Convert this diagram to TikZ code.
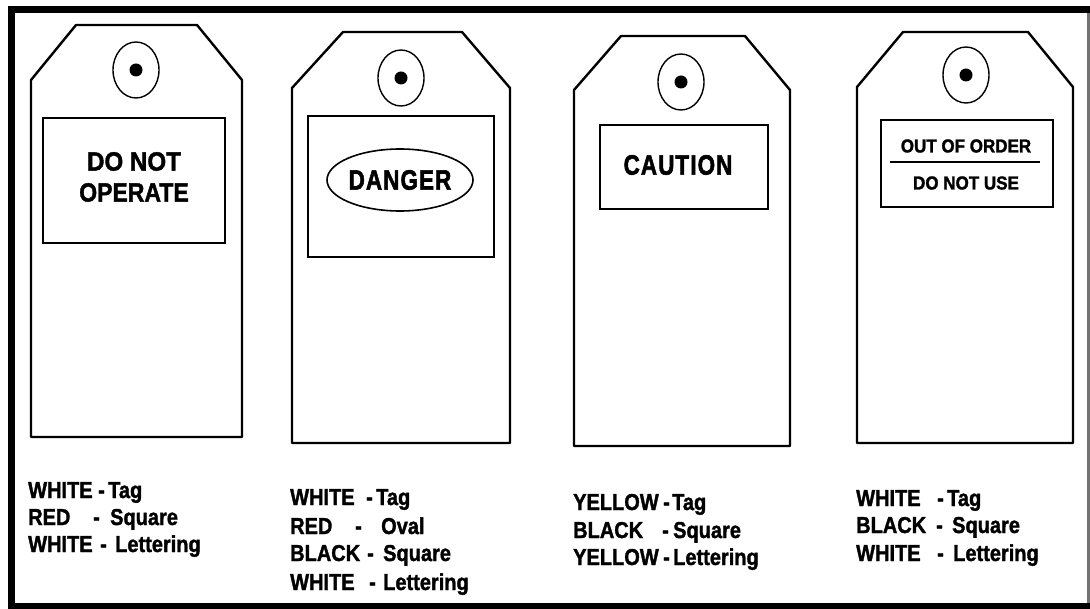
\documentclass[tikz,border=0pt]{standalone}
\usepackage{fontspec}
\setmainfont{Liberation Sans}[BoldFeatures={FakeBold=1.6}]
\newfontfamily\condfont{Liberation Sans}[LetterSpace=5,BoldFeatures={FakeBold=2.2}]
\usepackage{graphicx}
\newcommand\legline[7]{\node[lbl] (#1) at (#2,#3) {\scalebox{1}[1.15]{\makebox[#4pt][l]{#6}\makebox[#5pt][l]{-}#7}};}
\newcommand\tagshape[8]{\draw[tagedge] (#1,#2) -- (#3,#2) -- (#5,#4) -- (#5,#6) -- (#7,#6) -- (#7,#4) -- cycle;
  \draw[eyering] (#8) ellipse [x radius=23, y radius=28];
  \fill (#8) circle [radius=6.5];}
\begin{document}
\begin{tikzpicture}[x=1pt,y=-1pt,
  tagedge/.style={line width=2.4pt, line join=round},
  sqedge/.style={line width=1.6pt},
  eyering/.style={line width=1.4pt},
  lbl/.style={anchor=base west, inner sep=0pt, font=\fontsize{20}{24}\selectfont\bfseries},
  boxtxt/.style={inner sep=0pt, align=center, font=\fontsize{23}{33}\selectfont\bfseries},
  smalltxt/.style={inner sep=0pt, font=\fontsize{17}{20}\selectfont\bfseries},
  stenciltxt/.style={inner sep=0pt, font=\fontsize{28}{30}\condfont\bfseries}]
\useasboundingbox (0,0) rectangle (1090,609);
% frame
\fill[white] (0,0) rectangle (1090,609);
\fill[black] (8,6) rectangle (1090,13);
\fill[black] (8,6) rectangle (15,609);
\fill[black] (8,603) rectangle (1090,609);
\fill[black!55] (1087,13) rectangle (1089.5,603);
% tag 1
\coordinate (e1) at (136,70);
\tagshape{76}{25}{197}{80}{242}{437}{31}{e1}
\draw[sqedge] (43,118) rectangle (225,243);
\node[boxtxt] (t1) at (134,177) {\scalebox{1.05}[1.15]{DO NOT}\\[-2pt]\scalebox{1}[1.15]{OPERATE}};
% tag 2
\coordinate (e2) at (401,78);
\tagshape{343}{32}{462}{88}{510}{443}{292}{e2}
\draw[sqedge] (308,116) rectangle (494,257);
\draw[sqedge] (400,180) ellipse [x radius=73, y radius=31];
\node[stenciltxt] (t2) at (400,180) {\scalebox{0.8}[1]{DANGER}};
% tag 3
\coordinate (e3) at (681,82);
\tagshape{621}{36}{745}{90}{790}{446}{574}{e3}
\draw[sqedge] (600,125) rectangle (768,209);
\node[stenciltxt] (t3) at (678,165) {\scalebox{0.8}[1]{CAUTION}};
% tag 4
\coordinate (e4) at (966,75);
\tagshape{903}{32}{1028}{87}{1073}{443}{857}{e4}
\draw[sqedge] (881,120) rectangle (1053,207);
\node[smalltxt] (t4a) at (966,146) {\scalebox{1}[1.1]{OUT OF ORDER}};
\node[smalltxt] (t4b) at (966,183) {\scalebox{1}[1.1]{DO NOT USE}};
\draw[line width=1.4pt] (890,162) -- (1040,162);
% legends
\legline{a1}{28}{498}{70}{10}{WHITE}{Tag}
\legline{a2}{28}{525}{65}{17}{RED}{Square}
\legline{a3}{28}{552}{72}{15}{WHITE}{Lettering}
\legline{b1}{290}{505}{76}{10}{WHITE}{Tag}
\legline{b2}{290}{534}{65}{26}{RED}{Oval}
\legline{b3}{290}{561}{77}{16}{BLACK}{Square}
\legline{b4}{290}{590}{79}{14}{WHITE}{Lettering}
\legline{c1}{573}{510}{90}{9}{YELLOW}{Tag}
\legline{c2}{573}{538}{89}{11}{BLACK}{Square}
\legline{c3}{573}{565}{90}{10}{YELLOW}{Lettering}
\legline{d1}{856}{506}{81}{10}{WHITE}{Tag}
\legline{d2}{856}{533}{80}{16}{BLACK}{Square}
\legline{d3}{856}{561}{81}{16}{WHITE}{Lettering}
\end{tikzpicture}
\end{document}
